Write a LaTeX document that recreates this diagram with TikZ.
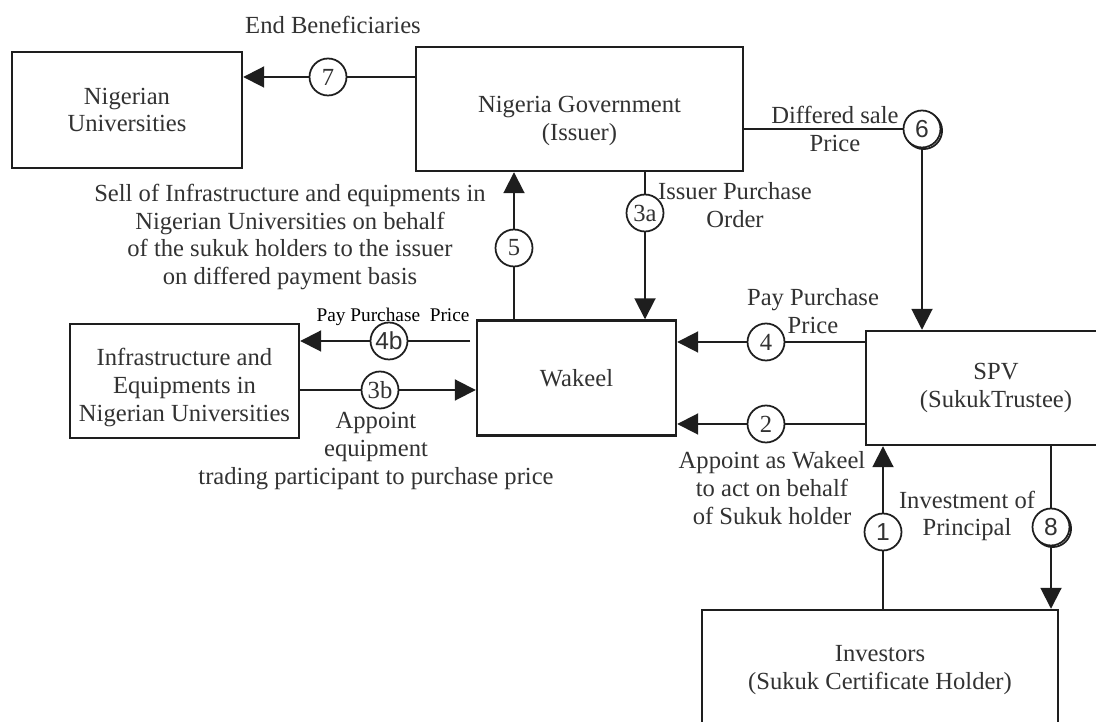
\documentclass[tikz,border=0pt]{standalone}
\usepackage{fontspec}
\setmainfont{Liberation Serif}
\setsansfont{Liberation Sans}
\usepackage{tikz}
\usetikzlibrary{positioning,arrows.meta,shadows}
\definecolor{InkLine}{RGB}{30,30,30}
\definecolor{InkText}{RGB}{50,50,50}

\begin{document}
\begin{tikzpicture}[x=0.02cm, y=-0.02cm,
    party/.style={rectangle, draw=InkLine, line width=1.4pt, fill=white,
        align=center, text=InkText, font=\fontsize{14}{15.8}\selectfont},
    stepno/.style={circle, draw=InkLine, line width=1pt, fill=white, inner sep=0pt,
        minimum size=0.74cm, text=InkText, font=\fontsize{14}{15}\selectfont},
    stepsans/.style={stepno, font=\sffamily\fontsize{14}{15}\selectfont},
    shadowed/.style={copy shadow={shadow xshift=0.9pt, shadow yshift=-0.9pt}},
    flow/.style={draw=InkLine, line width=1.1pt},
    arr/.style={flow, -{Triangle[length=0.42cm, width=0.42cm]}},
    note/.style={align=center, text=InkText, font=\fontsize{14}{15.8}\selectfont},
]
\useasboundingbox (0,0) rectangle (1096,722);
\clip (0,0) rectangle (1096,722);

% Parties
\node[party, minimum width=4.6cm, minimum height=2.32cm] (nu) at (127,110) {Nigerian\\Universities};
\node[party, minimum width=6.54cm, minimum height=2.48cm] (ng) at (579.5,109) {\rule{0pt}{23pt}Nigeria Government\\(Issuer)};
\node[party, minimum width=4.58cm, minimum height=2.28cm] (infra) at (184.5,381) {\rule{0pt}{17pt}Infrastructure and\\Equipments in\\Nigerian Universities};
\node[party, minimum width=3.98cm, minimum height=2.3cm] (wak) at (576.5,378) {Wakeel};
\node[party, minimum width=6.4cm, minimum height=2.28cm] (spv) at (1026,388) {\hspace*{-1.2cm}SPV\\\hspace*{-1.2cm}(SukukTrustee)};
\node[party, minimum width=7.12cm, minimum height=2.4cm] (inv) at (880,670) {Investors\\(Sukuk Certificate Holder)};

% Step numbers
\node[stepno] (c7) at (328,77) {7};
\node[stepsans, shadowed] (c6) at (922,129) {6};
\node[stepno] (c3a) at (645,213) {3a};
\node[stepno] (c5) at (514,248) {5};
\node[stepsans] (c4b) at (389,341) {4b};
\node[stepno] (c3b) at (380,390) {3b};
\node[stepno] (c4) at (766,342) {4};
\node[stepno] (c2) at (766,424) {2};
\node[stepsans] (c1) at (883,532) {1};
\node[stepsans, shadowed] (c8) at (1051,527) {8};
\coordinate (w4b) at (470,341);

% Flows
\draw[flow] (ng.west |- c7) -- (c7);
\draw[arr] (c7) -- (c7 -| nu.east);
\draw[flow] (ng.east |- c6) -- (c6);
\draw[arr] (c6) -- (c6 |- spv.north);
\draw[flow] (c3a |- ng.south) -- (c3a);
\draw[arr] (c3a) -- (c3a |- wak.north);
\draw[flow] (c5 |- wak.north) -- (c5);
\draw[arr] (c5) -- (c5 |- ng.south);
\draw[flow] (w4b) -- (c4b);
\draw[arr] (c4b) -- (c4b -| infra.east);
\draw[flow] (c3b -| infra.east) -- (c3b);
\draw[arr] (c3b) -- (c3b -| wak.west);
\draw[flow] (c4 -| spv.west) -- (c4);
\draw[arr] (c4) -- (c4 -| wak.east);
\draw[flow] (c2 -| spv.west) -- (c2);
\draw[arr] (c2) -- (c2 -| wak.east);
\draw[flow] (c1 |- inv.north) -- (c1);
\draw[arr] (c1) -- (c1 |- spv.south);
\draw[flow] (c8 |- spv.south) -- (c8);
\draw[arr] (c8) -- (c8 |- inv.north);

% Labels
\node[note] (lbEnd) at (333,25) {End Beneficiaries};
\node[note] (lbDiff) at (835,129) {Differed sale\\Price};
\node[note] (lbOrder) at (735,205) {Issuer Purchase\\Order};
\node[note] (lbSell) at (290,237) {Sell of Infrastructure and equipments in\\Nigerian Universities on behalf\\of the sukuk holders to the issuer\\on differed payment basis};
\node[note, text=black, font=\fontsize{11}{13}\selectfont] (lbPay4b) at (393,317) {Pay Purchase\ \ Price};
\node[note] (lbTrade) at (376,451) {Appoint\\equipment\\trading participant to purchase price};
\node[note] (lbPay4) at (813,311) {Pay Purchase\\Price};
\node[note] (lbAppoint) at (772,488) {Appoint as Wakeel\\to act on behalf\\of Sukuk holder};
\node[note] (lbInvest) at (967,516) {Investment of\\Principal};
\end{tikzpicture}
\end{document}
